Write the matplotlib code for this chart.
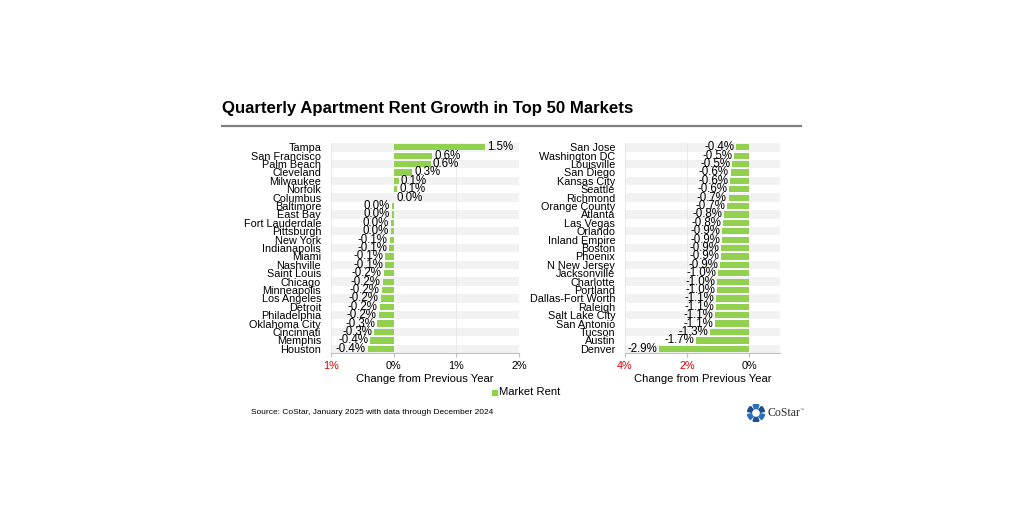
import matplotlib
matplotlib.use("Agg")
import matplotlib.pyplot as plt
from matplotlib.patches import Wedge

plt.rcParams['font.family'] = ['Liberation Sans', 'DejaVu Sans']

# data
left_markets = ["Tampa", "San Francisco", "Palm Beach", "Cleveland", "Milwaukee", "Norfolk",
                "Columbus", "Baltimore", "East Bay", "Fort Lauderdale", "Pittsburgh", "New York",
                "Indianapolis", "Miami", "Nashville", "Saint Louis", "Chicago", "Minneapolis",
                "Los Angeles", "Detroit", "Philadelphia", "Oklahoma City", "Cincinnati",
                "Memphis", "Houston"]
left_values = [1.46, 0.62, 0.59, 0.29, 0.08, 0.05, 0.01, -0.03, -0.03, -0.04, -0.04, -0.06,
               -0.07, -0.13, -0.13, -0.16, -0.17, -0.19, -0.2, -0.22, -0.24, -0.26, -0.31,
               -0.37, -0.41]
left_labels = ["1.5%", "0.6%", "0.6%", "0.3%", "0.1%", "0.1%", "0.0%", "0.0%", "0.0%", "0.0%",
               "0.0%", "-0.1%", "-0.1%", "-0.1%", "-0.1%", "-0.2%", "-0.2%", "-0.2%", "-0.2%",
               "-0.2%", "-0.2%", "-0.3%", "-0.3%", "-0.4%", "-0.4%"]

right_markets = ["San Jose", "Washington DC", "Louisville", "San Diego", "Kansas City", "Seattle",
                 "Richmond", "Orange County", "Atlanta", "Las Vegas", "Orlando", "Inland Empire",
                 "Boston", "Phoenix", "N New Jersey", "Jacksonville", "Charlotte", "Portland",
                 "Dallas-Fort Worth", "Raleigh", "Salt Lake City", "San Antonio", "Tucson",
                 "Austin", "Denver"]
right_values = [-0.41, -0.49, -0.54, -0.59, -0.61, -0.64, -0.66, -0.7, -0.81, -0.83, -0.86, -0.87,
                -0.89, -0.9, -0.94, -1.0, -1.02, -1.03, -1.07, -1.07, -1.1, -1.11, -1.27,
                -1.72, -2.89]
right_labels = ["-0.4%", "-0.5%", "-0.5%", "-0.6%", "-0.6%", "-0.6%", "-0.7%", "-0.7%", "-0.8%",
                "-0.8%", "-0.9%", "-0.9%", "-0.9%", "-0.9%", "-0.9%", "-1.0%", "-1.0%", "-1.0%",
                "-1.1%", "-1.1%", "-1.1%", "-1.1%", "-1.3%", "-1.7%", "-2.9%"]

left_ticks = [-1, 0, 1, 2]
left_ticklabels = ["1%", "0%", "1%", "2%"]
right_ticks = [-4, -2, 0]
right_ticklabels = ["4%", "2%", "0%"]

GREEN = "#92D050"
fs = 7.8

fig = plt.figure(figsize=(10.24, 5.12), dpi=100)
fig.patch.set_facecolor("white")


def panel(rect, markets, values, labels, xlim, ticks, ticklabels):
    ax = fig.add_axes(rect)
    n = len(markets)
    y = list(range(n))
    for i in y:
        if i % 2 == 0:
            ax.axhspan(i - 0.5, i + 0.5, color="#f2f2f2", zorder=0, lw=0)
    for t in ticks + [xlim[1]]:
        if t != 0:
            ax.axvline(t, color="#e6e6e6", lw=0.6, zorder=0.5)
    ax.barh(y, values, height=0.75, color=GREEN, zorder=2)
    span = xlim[1] - xlim[0]
    for yi, v, lab in zip(y, values, labels):
        if v > 0:
            ax.text(v + span * 0.012, yi, lab, ha="left", va="center", fontsize=fs + 0.5)
        else:
            ax.text(v - span * 0.012, yi, lab, ha="right", va="center", fontsize=fs + 0.5)
    ax.set_xlim(*xlim)
    ax.set_ylim(n - 0.5, -0.5)
    ax.set_yticks(y)
    ax.set_yticklabels(markets, fontsize=fs)
    ax.tick_params(axis="y", length=0, pad=7)
    ax.set_xticks(ticks)
    ax.set_xticklabels(ticklabels, fontsize=fs)
    for tl, t in zip(ax.get_xticklabels(), ticks):
        if t < 0:
            tl.set_color("#e00000")
    ax.tick_params(axis="x", length=3, color="#bfbfbf", pad=3)
    for s in ["top", "right", "left"]:
        ax.spines[s].set_visible(False)
    ax.spines["bottom"].set_color("#bfbfbf")
    ax.set_xlabel("Change from Previous Year", fontsize=fs + 0.3, labelpad=2)
    ax.set_facecolor("white")
    return ax


panel([0.3232, 0.3105, 0.1836, 0.41], left_markets, left_values, left_labels,
      (-1, 2), left_ticks, left_ticklabels)
panel([0.6104, 0.3105, 0.1514, 0.41], right_markets, right_values, right_labels,
      (-4, 1), right_ticks, right_ticklabels)

# title and rule
fig.text(222 / 1024, 1 - 109 / 512, "Quarterly Apartment Rent Growth in Top 50 Markets",
         fontsize=12.1, fontweight="bold", va="center", ha="left")
fig.add_artist(plt.Line2D([222 / 1024, 801 / 1024], [1 - 126 / 512] * 2,
                          color="#808080", lw=1.6))

# legend
fig.patches.append(plt.Rectangle((492 / 1024, 1 - 395 / 512), 5 / 1024, 5 / 512,
                                 color=GREEN, transform=fig.transFigure, figure=fig))
fig.text(499 / 1024, 1 - 392 / 512, "Market Rent", fontsize=fs + 0.3, va="center", ha="left")

# source
fig.text(251 / 1024, 1 - 413 / 512, "Source: CoStar, January 2025 with data through December 2024",
         fontsize=6, va="center", ha="left")

# logo
lax = fig.add_axes([747 / 1024, 1 - 422 / 512, 18 / 1024, 18 / 512])
lax.set_xlim(-1, 1)
lax.set_ylim(-1, 1)
lax.set_aspect("equal")
lax.axis("off")
for k, col in enumerate(["#1f4e8c", "#2a6fc0", "#1f4e8c", "#2a6fc0", "#1f4e8c", "#2a6fc0"]):
    lax.add_patch(Wedge((0, 0), 0.95, k * 60 + 10, k * 60 + 50, width=0.45, color=col))
fig.text(767 / 1024, 1 - 413 / 512, "CoStar", fontsize=8.5, family="Liberation Serif",
         color="#2b2b2b", va="center", ha="left")
fig.text(800 / 1024, 1 - 410 / 512, "\u2122", fontsize=3, color="#555555", va="center")

fig.savefig("out.png", dpi=100, facecolor="white")
